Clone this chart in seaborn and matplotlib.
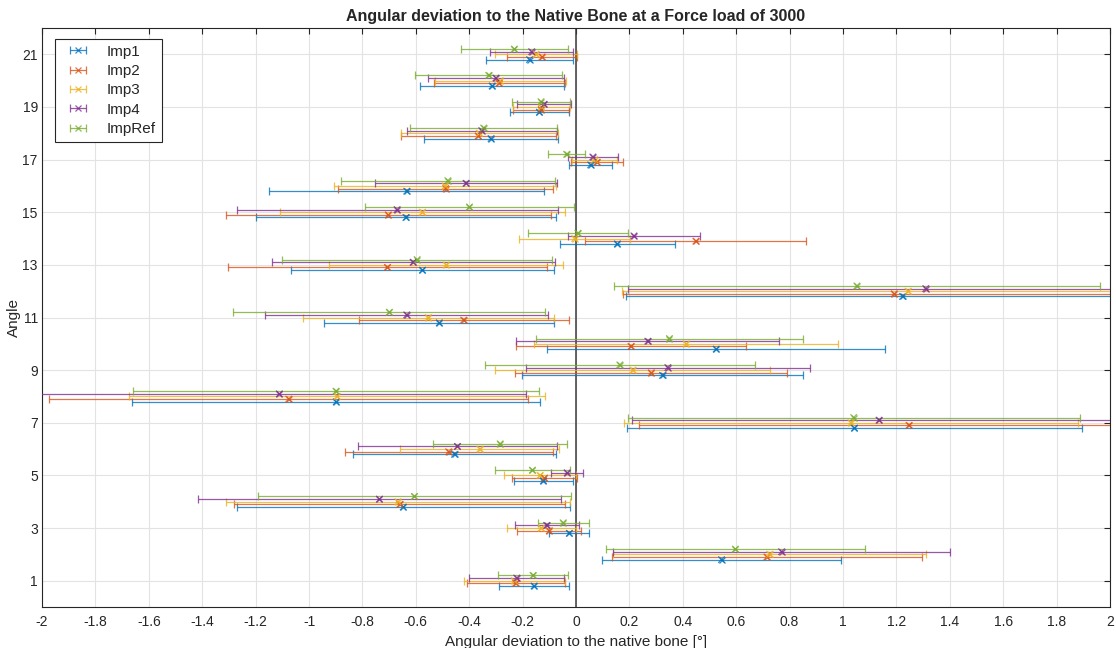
import numpy as np
import pandas as pd
import matplotlib
matplotlib.use("Agg")
import matplotlib.pyplot as plt
import seaborn as sns

angles = list(range(1, 22))
series = ["Imp1", "Imp2", "Imp3", "Imp4", "ImpRef"]

imp1_mean = [-0.157, 0.545, -0.025, -0.647, -0.122, -0.455, 1.043, -0.898, 0.324, 0.525, -0.512,
             1.223, -0.575, 0.155, -0.637, -0.634, 0.055, -0.318, -0.137, -0.314, -0.174]
imp1_err = [0.131, 0.446, 0.075, 0.624, 0.110, 0.380, 0.853, 0.765, 0.525, 0.632, 0.430,
            1.037, 0.492, 0.215, 0.563, 0.514, 0.080, 0.252, 0.110, 0.270, 0.163]

imp2_mean = [-0.226, 0.715, -0.100, -0.660, -0.118, -0.477, 1.247, -1.076, 0.282, 0.206, -0.421,
             1.192, -0.706, 0.449, -0.703, -0.488, 0.079, -0.366, -0.130, -0.288, -0.127]
imp2_err = [0.183, 0.580, 0.120, 0.620, 0.120, 0.390, 1.011, 0.897, 0.510, 0.430, 0.393,
            1.015, 0.599, 0.414, 0.608, 0.402, 0.098, 0.290, 0.105, 0.245, 0.130]

imp3_mean = [-0.231, 0.725, -0.130, -0.667, -0.135, -0.360, 1.030, -0.895, 0.213, 0.413, -0.553,
             1.244, -0.486, -0.005, -0.575, -0.490, 0.070, -0.362, -0.130, -0.284, -0.150]
imp3_err = [0.190, 0.587, 0.130, 0.643, 0.136, 0.298, 0.850, 0.780, 0.515, 0.570, 0.470,
            1.073, 0.438, 0.208, 0.535, 0.415, 0.085, 0.295, 0.107, 0.245, 0.155]

imp4_mean = [-0.222, 0.770, -0.110, -0.736, -0.033, -0.444, 1.135, -1.111, 0.344, 0.269, -0.634,
             1.310, -0.610, 0.217, -0.670, -0.412, 0.063, -0.353, -0.120, -0.300, -0.166]
imp4_err = [0.177, 0.632, 0.120, 0.680, 0.060, 0.373, 0.925, 0.925, 0.533, 0.493, 0.529,
            1.116, 0.530, 0.246, 0.601, 0.342, 0.094, 0.280, 0.100, 0.256, 0.155]

ref_mean = [-0.161, 0.597, -0.048, -0.605, -0.163, -0.284, 1.040, -0.899, 0.164, 0.350, -0.699,
            1.052, -0.595, 0.007, -0.399, -0.480, -0.035, -0.346, -0.131, -0.327, -0.231]
ref_err = [0.131, 0.485, 0.095, 0.587, 0.140, 0.252, 0.846, 0.762, 0.506, 0.500, 0.584,
           0.910, 0.505, 0.187, 0.390, 0.400, 0.070, 0.275, 0.110, 0.275, 0.200]

x_ticks = [-2, -1.8, -1.6, -1.4, -1.2, -1, -0.8, -0.6, -0.4, -0.2, 0,
           0.2, 0.4, 0.6, 0.8, 1, 1.2, 1.4, 1.6, 1.8, 2]
y_ticks = [1, 3, 5, 7, 9, 11, 13, 15, 17, 19, 21]

means = [imp1_mean, imp2_mean, imp3_mean, imp4_mean, ref_mean]
errs = [imp1_err, imp2_err, imp3_err, imp4_err, ref_err]
offsets = [-0.2, -0.1, 0.0, 0.1, 0.2]
colors = ["#0072BD", "#D95319", "#EDB120", "#7E2F8E", "#77AC30"]

sns.set_theme(style="whitegrid")
plt.rcParams["font.family"] = ["Arial", "Liberation Sans", "DejaVu Sans"]
plt.rcParams["axes.unicode_minus"] = False

rows = []
for s, m, e, off in zip(series, means, errs, offsets):
    for a, mv, ev in zip(angles, m, e):
        rows.append({"series": s, "angle": a + off, "mean": mv, "err": ev})
df = pd.DataFrame(rows)

fig = plt.figure(figsize=(11.16, 6.48), dpi=100)
ax = fig.add_axes([42 / 1116, 1 - 607 / 648, (1110 - 42) / 1116, (607 - 28) / 648])
ax.set_facecolor("white")

handles = []
for s, c in zip(series, colors):
    d = df[df["series"] == s]
    h = ax.errorbar(d["mean"], d["angle"], xerr=d["err"], fmt="x", color=c,
                    ecolor=c, elinewidth=0.9, capsize=3, capthick=0.9,
                    markersize=4.5, markeredgewidth=0.9, label=s, alpha=0.8, zorder=3)
    handles.append(h)

sns.scatterplot(data=df, x="mean", y="angle", hue="series", palette=colors,
                marker="x", s=22, linewidth=0.9, legend=False, ax=ax, alpha=0.8, zorder=4)

ax.axvline(0, color="#3a3a3a", linewidth=1.1, zorder=2.5)

ax.set_xlim(-2, 2)
ax.set_ylim(0, 22)
ax.set_xticks(x_ticks)
ax.set_xticklabels([f"{v:g}" for v in x_ticks])
ax.set_yticks(y_ticks)
ax.grid(True, color="#e3e3e3", linewidth=0.8, zorder=0)
ax.set_axisbelow(True)
ax.tick_params(direction="in", top=True, right=True, length=4, width=0.8,
               colors="#262626", labelsize=10)
ax.tick_params(axis="y", pad=3)
ax.tick_params(axis="x", pad=6)
for sp in ax.spines.values():
    sp.set_color("#262626")
    sp.set_linewidth(0.8)

ax.set_title("Angular deviation to the Native Bone at a Force load of 3000",
             fontsize=11.5, fontweight="bold", pad=5)
ax.set_xlabel("Angular deviation to the native bone [°]", fontsize=11, labelpad=4)
ax.set_ylabel("Angle", fontsize=11, labelpad=1)

leg = ax.legend(handles=handles, labels=series, loc="upper left",
                bbox_to_anchor=(0.005, 0.995), fontsize=11, frameon=True,
                fancybox=False, edgecolor="#262626", framealpha=1,
                handlelength=2.2, borderpad=0.4, labelspacing=0.35)
leg.get_frame().set_linewidth(0.8)

fig.savefig("out.png", dpi=100)
